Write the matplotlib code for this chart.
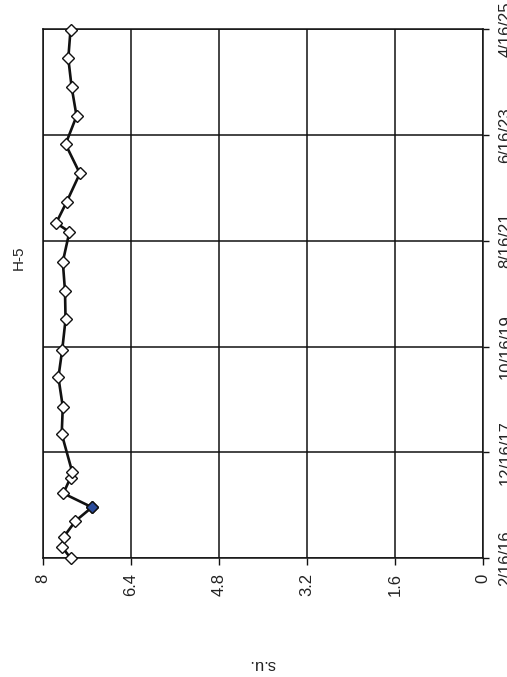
import matplotlib
matplotlib.use("Agg")
import matplotlib.pyplot as plt
import matplotlib.dates as mdates
import pandas as pd

plt.rcParams['font.family'] = ['Liberation Sans', 'DejaVu Sans']

# pH readings for well H-5 (standard units)
sample_dates = [
    "2016-02-16", "2016-04-24", "2016-06-30", "2016-10-07", "2017-01-02",
    "2017-03-31", "2017-07-08", "2017-08-15", "2018-04-11", "2018-09-30",
    "2019-04-04", "2019-09-27", "2020-04-04", "2020-10-02", "2021-04-04",
    "2021-10-10", "2021-12-06", "2022-04-18", "2022-10-15", "2023-04-18",
    "2023-10-13", "2024-04-15", "2024-10-12", "2025-04-10",
]
ph_values = [
    7.50, 7.65, 7.62, 7.41, 7.11,
    7.63, 7.50, 7.47, 7.66, 7.64,
    7.72, 7.65, 7.59, 7.60, 7.64,
    7.52, 7.76, 7.57, 7.33, 7.59,
    7.39, 7.48, 7.54, 7.50,
]
flagged_dates = ["2017-01-02"]

date_ticks = ["2016-02-16", "2017-12-16", "2019-10-16", "2021-08-16", "2023-06-16", "2025-04-16"]
date_tick_labels = ["2/16/16", "12/16/17", "10/16/19", "8/16/21", "6/16/23", "4/16/25"]
value_ticks = [0, 1.6, 3.2, 4.8, 6.4, 8]
value_tick_labels = ["0", "1.6", "3.2", "4.8", "6.4", "8"]

title_text = "H-5"
unit_label = "s.u."

W, H = 507, 677
fig = plt.figure(figsize=(W / 100, H / 100), dpi=100)
ax = fig.add_axes([43 / W, 1 - 558 / H, 440 / W, 529 / H])

d = mdates.date2num(pd.to_datetime(sample_dates))
fd = mdates.date2num(pd.to_datetime(flagged_dates))
flag_vals = [v for s, v in zip(sample_dates, ph_values) if s in flagged_dates]

ax.plot(ph_values, d, color="#111111", lw=1.9, zorder=3, clip_on=False,
        marker="D", ms=6.3, mfc="white", mec="#111111", mew=1.0)
ax.plot(flag_vals, fd, ls="none", marker="D", ms=6.3, clip_on=False,
        mfc="#2b4c9b", mec="#111111", mew=1.0, zorder=4)

dt = mdates.date2num(pd.to_datetime(date_ticks))
ax.set_xlim(8, 0)
ax.set_ylim(dt[0], dt[-1])

ax.set_xticks(value_ticks)
ax.set_xticklabels(value_tick_labels, rotation=90, fontsize=12, color="#222222")
ax.set_yticks(dt)
ax.set_yticklabels(date_tick_labels, rotation=90, fontsize=12, color="#222222",
                   va="center")
ax.yaxis.tick_right()

ax.tick_params(axis="x", direction="out", length=5, width=1.0, pad=6, colors="#111111",
               labelcolor="#222222")
ax.tick_params(axis="y", direction="out", length=4, width=1.0, pad=7, colors="#111111",
               labelcolor="#222222")

ax.grid(True, color="#111111", lw=1.1)
ax.set_axisbelow(True)
for sp in ax.spines.values():
    sp.set_color("#111111")
    sp.set_linewidth(1.1)

fig.text(19 / W, 1 - 258 / H, title_text, rotation=90, ha="center", va="center",
         fontsize=11, color="#222222")
fig.text(262 / W, 1 - 665 / H, unit_label, rotation=180, ha="center", va="center",
         fontsize=12, color="#222222")

fig.savefig("out.png", dpi=100, facecolor="white")
